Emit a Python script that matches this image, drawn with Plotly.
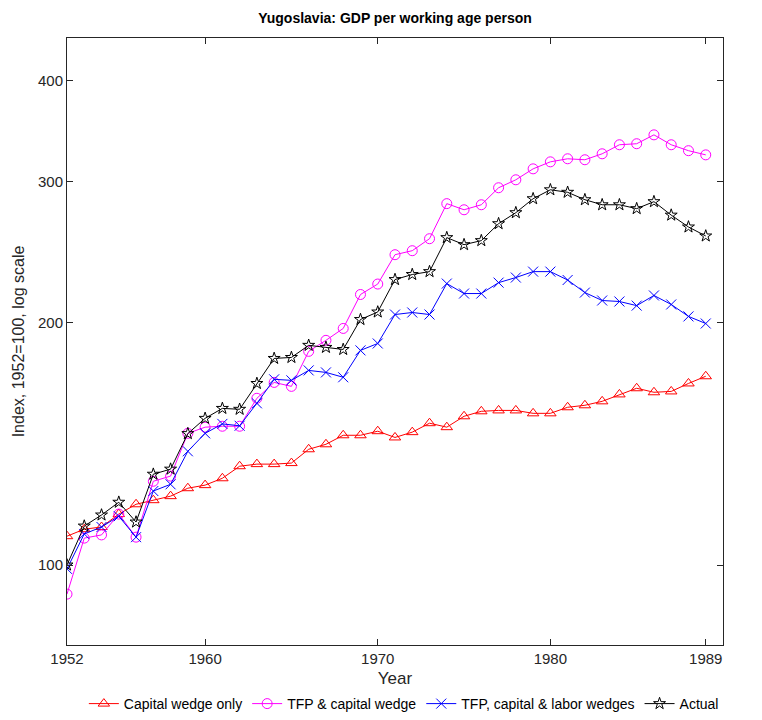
import plotly.graph_objects as go

years = list(range(1952, 1990))

capital_wedge = [108.6, 110.8, 111.5, 115.7, 119.0, 120.4, 121.8, 124.6, 125.7, 128.2,
                 132.7, 133.5, 133.5, 133.9, 139.3, 141.3, 145.0, 145.0, 146.7, 144.1,
                 146.3, 150.1, 148.4, 153.1, 155.3, 155.7, 155.7, 154.4, 154.4, 157.1,
                 158.0, 159.8, 163.0, 165.9, 164.0, 164.4, 168.2, 171.7]

tfp_capital = [92.0, 108.0, 109.0, 115.7, 108.3, 127.1, 129.0, 145.8, 148.4, 148.8,
               148.8, 161.2, 168.7, 166.8, 184.4, 190.3, 196.9, 217.0, 223.6, 243.2,
               246.0, 254.6, 281.5, 276.6, 280.6, 294.6, 301.4, 311.0, 317.3, 320.1,
               319.2, 324.7, 333.2, 334.2, 342.8, 333.2, 327.6, 323.7]

tfp_cap_labor = [98.9, 109.3, 111.5, 115.0, 108.3, 123.6, 126.0, 138.5, 145.8, 149.8,
                 149.0, 158.9, 170.2, 169.7, 174.6, 173.6, 171.2, 184.9, 188.6, 204.9,
                 206.1, 204.9, 223.9, 217.6, 217.6, 224.5, 227.8, 231.7, 231.7, 226.2,
                 218.2, 213.3, 212.7, 210.2, 216.4, 210.9, 203.8, 199.7]

actual = [100.0, 111.8, 115.4, 119.7, 113.1, 129.7, 131.6, 145.7, 152.2, 156.6,
          156.2, 168.2, 180.7, 181.2, 187.6, 186.5, 185.4, 202.0, 206.4, 226.5,
          229.8, 231.7, 255.4, 250.3, 253.2, 265.8, 274.3, 285.5, 292.9, 290.8,
          284.7, 280.6, 280.6, 277.5, 283.1, 272.4, 263.3, 256.6]

x_ticks = [1952, 1960, 1970, 1980, 1989]
y_ticks = [100, 200, 300, 400]

series = [
    ("Capital wedge only", capital_wedge, "#ff0000", "triangle-up-open", 10),
    ("TFP & capital wedge", tfp_capital, "#ff00ff", "circle-open", 10),
    ("TFP, capital & labor wedges", tfp_cap_labor, "#0000ff", "x-thin-open", 10),
    ("Actual", actual, "#000000", "star-open", 9),
]

FONT = "Liberation Sans, Arial, Helvetica"
W, H = 754, 712  # page body has an 8px margin

fig = go.Figure()
for name, vals, color, sym, size in series:
    fig.add_trace(go.Scatter(
        x=years, y=vals, name=name, mode="lines+markers",
        line=dict(color=color, width=1),
        marker=dict(symbol=sym, size=size, color=color, line=dict(color=color, width=1)),
    ))

axis_common = dict(
    showgrid=False, zeroline=False, showline=True, linecolor="#262626", linewidth=1,
    mirror="ticks", ticks="inside", ticklen=6, tickcolor="#262626", automargin=False,
    tickfont=dict(family=FONT, size=15, color="#262626"),
)

fig.update_layout(
    width=W, height=H,
    margin=dict(l=59, r=39, t=30, b=75, autoexpand=False),
    paper_bgcolor="white", plot_bgcolor="white",
    title=dict(text="<b>Yugoslavia: GDP per working age person</b>",
               x=0.5, xanchor="center", xref="paper", y=1 - 10 / H, yanchor="middle",
               font=dict(family=FONT, size=14, color="black")),
    xaxis=dict(range=[1952, 1990], tickvals=x_ticks,
               title=dict(text="Year", font=dict(family=FONT, size=17, color="#262626"),
                          standoff=19),
               **axis_common),
    yaxis=dict(type="log", range=[1.9005, 2.6555], tickvals=y_ticks,
               ticktext=[str(v) for v in y_ticks],
               title=dict(text="Index, 1952=100, log scale",
                          font=dict(family=FONT, size=16, color="#262626"),
                          standoff=9),
               **axis_common),
    legend=dict(orientation="h", x=0.525, xanchor="center", xref="container",
                y=-0.011, yanchor="bottom", yref="container",
                font=dict(family=FONT, size=14, color="black"),
                tracegroupgap=0, bgcolor="rgba(0,0,0,0)"),
    showlegend=True,
)

fig.write_html("out.html")
